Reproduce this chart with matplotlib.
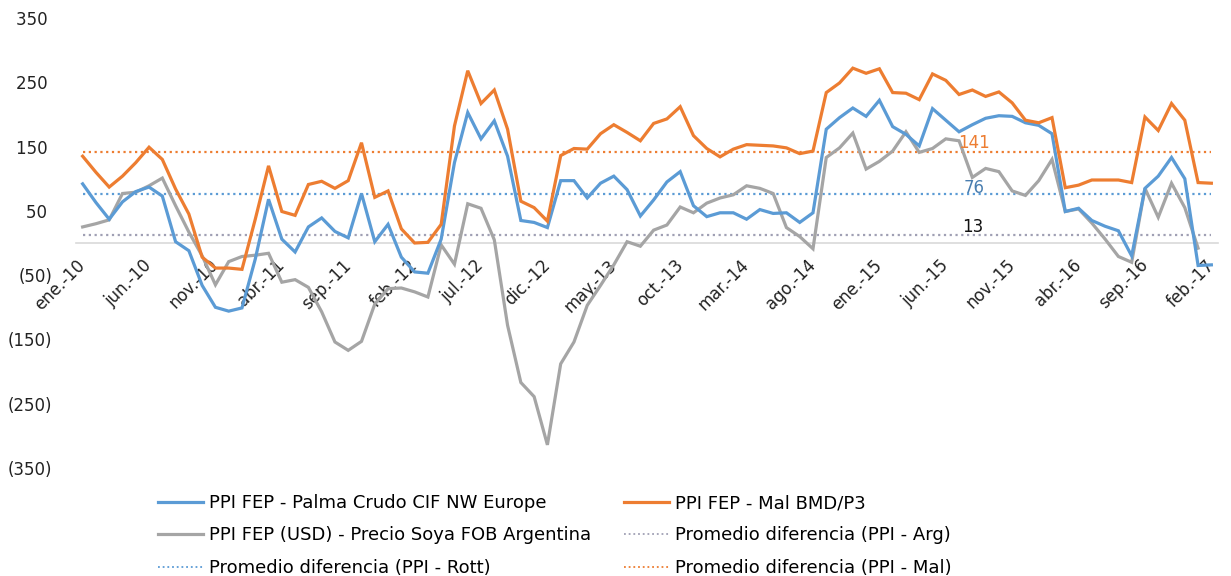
import numpy as np
import matplotlib
matplotlib.use("Agg")
import matplotlib.pyplot as plt
from matplotlib.lines import Line2D

tick_labels = ['ene.-10', 'jun.-10', 'nov.-10', 'abr.-11', 'sep.-11', 'feb.-12',
               'jul.-12', 'dic.-12', 'may.-13', 'oct.-13', 'mar.-14', 'ago.-14',
               'ene.-15', 'jun.-15', 'nov.-15', 'abr.-16', 'sep.-16', 'feb.-17']

palma_rott = [92, 63, 37, 64, 80, 87, 73, 2, -12, -66, -100, -106, -101, -25, 68, 6,
              -14, 25, 39, 18, 8, 77, 2, 29, -22, -45, -47, 6, 125, 203, 162, 190,
              135, 35, 32, 24, 97, 97, 70, 93, 104, 83, 42, 67, 95, 111, 58, 41,
              47, 47, 37, 52, 46, 47, 32, 47, 177, 195, 210, 197, 222, 181, 169, 151,
              209, 191, 173, 184, 194, 198, 197, 187, 183, 170, 49, 54, 35, 26, 19, -20,
              85, 104, 133, 100, -35, -34]

mal_bmd = [135, 110, 87, 104, 125, 149, 130, 84, 45, -22, -39, -39, -41, 37, 120, 49,
           43, 91, 96, 85, 97, 156, 71, 81, 22, 0, 1, 29, 182, 268, 217, 238,
           177, 65, 55, 34, 136, 147, 146, 170, 184, 172, 159, 186, 193, 212, 167, 147,
           134, 146, 153, 152, 151, 148, 139, 143, 234, 249, 272, 264, 271, 234, 233, 223,
           263, 253, 231, 238, 228, 235, 218, 191, 187, 195, 86, 90, 98, 98, 98, 94,
           196, 175, 217, 191, 94, 93]

soya_arg = [25, 30, 36, 77, 79, 89, 101, 58, 17, -20, -65, -29, -21, -19, -16, -61,
            -57, -69, -107, -154, -167, -153, -95, -71, -70, -76, -84, -3, -33, 61, 54, 5,
            -128, -217, -239, -314, -188, -154, -97, -66, -34, 2, -5, 20, 28, 56, 47, 62,
            70, 75, 89, 85, 77, 24, 10, -9, 133, 148, 171, 115, 127, 143, 173, 141,
            147, 162, 159, 102, 116, 111, 81, 74, 97, 130, 49, 53, 31, 6, -21, -30,
            85, 40, 93, 55, -8, np.nan]

avg_arg = 13
avg_rott = 76
avg_mal = 141

n = len(palma_rott)
x = np.arange(n)

BLUE = '#5B9BD5'
ORANGE = '#ED7D31'
GRAY = '#A5A5A5'
AVG_GRAY = '#A0A0B4'
FONT = 'DejaVu Sans'

fig = plt.figure(figsize=(12.31, 5.76), dpi=100)
ax = fig.add_axes([76/1231, 1 - 468/576, (1218-76)/1231, (468-18)/576])

for s in ['top', 'right', 'left']:
    ax.spines[s].set_visible(False)
ax.spines['bottom'].set_position(('data', 0))
ax.spines['bottom'].set_color('#D9D9D9')
ax.spines['bottom'].set_linewidth(1.2)
ax.spines['bottom'].set_zorder(1)

dot = (0, (1, 1.6))
ax.plot(x, [avg_mal]*n, color=ORANGE, lw=1.6, ls=dot, zorder=2)
ax.plot(x, [avg_rott]*n, color=BLUE, lw=1.6, ls=dot, zorder=2)
ax.plot(x, [avg_arg]*n, color=AVG_GRAY, lw=1.6, ls=dot, zorder=2)

ax.plot(x, soya_arg, color=GRAY, lw=2.3, zorder=3, solid_joinstyle='miter')
ax.plot(x, palma_rott, color=BLUE, lw=2.3, zorder=4, solid_joinstyle='miter')
ax.plot(x, mal_bmd, color=ORANGE, lw=2.3, zorder=5, solid_joinstyle='miter')

ax.set_xlim(-0.5, n - 0.5)
ax.set_ylim(-350, 350)
yt = [350, 250, 150, 50, -50, -150, -250, -350]
ax.set_yticks(yt)
ax.set_yticklabels([f"({-v})" if v < 0 else f"{v} " for v in yt],
                   fontsize=12, color='#222222', family=FONT)
ax.tick_params(axis='y', length=0, pad=17)

ax.set_xticks(x[::5])
ax.tick_params(axis='x', length=0, pad=14)
ax.set_xticklabels(tick_labels, rotation=45, ha='right', va='center',
                   rotation_mode='anchor', fontsize=12, family=FONT, color='#222222')

# data labels for averages
ax.text(67.1, avg_mal + 15, str(avg_mal), color=ORANGE, fontsize=12, ha='center', va='center', family=FONT)
ax.text(67.1, avg_rott + 9, str(avg_rott), color='#4A7EB0', fontsize=12, ha='center', va='center', family=FONT)
ax.text(67.0, avg_arg + 12, str(avg_arg), color='#111111', fontsize=12, ha='center', va='center', family=FONT)

handles = [
    Line2D([], [], color=BLUE, lw=2.3),
    Line2D([], [], color=GRAY, lw=2.3),
    Line2D([], [], color=BLUE, lw=1.3, ls=dot),
    Line2D([], [], color=ORANGE, lw=2.3),
    Line2D([], [], color=AVG_GRAY, lw=1.3, ls=dot),
    Line2D([], [], color=ORANGE, lw=1.3, ls=dot),
]
labels = [
    'PPI FEP - Palma Crudo CIF NW Europe',
    'PPI FEP (USD) - Precio Soya FOB Argentina',
    'Promedio diferencia (PPI - Rott)',
    'PPI FEP - Mal BMD/P3',
    'Promedio diferencia (PPI - Arg)',
    'Promedio diferencia (PPI - Mal)',
]
fig.legend(handles, labels, ncol=2, loc='upper left',
           bbox_to_anchor=(158/1231, 1 - 494/576), frameon=False,
           prop={'family': FONT, 'size': 13}, handlelength=2.5, handletextpad=0.3,
           columnspacing=1.85, labelspacing=0.8, borderpad=0, borderaxespad=0)

fig.savefig('out.png', dpi=100)
